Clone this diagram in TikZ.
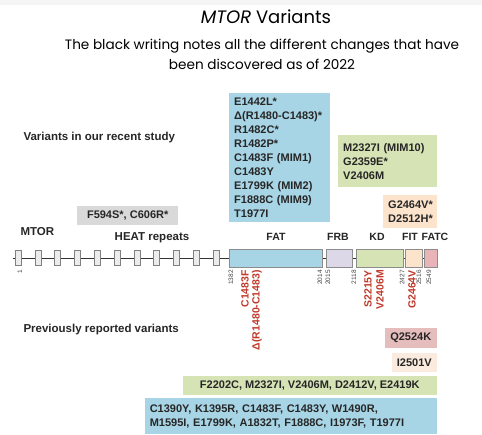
\documentclass[tikz,border=0pt]{standalone}
\usepackage{fontspec}
\setmainfont{Liberation Sans}
\newfontfamily\titlefont{Poppins}
\usetikzlibrary{positioning}
\definecolor{fatblue}{HTML}{A8D5E6}
\definecolor{kdgreen}{HTML}{D5E3B5}
\definecolor{fitpeach}{HTML}{FBE3CC}
\definecolor{frblilac}{HTML}{DDD8E8}
\definecolor{fatcpink}{HTML}{E8B4B8}
\definecolor{heatgrey}{HTML}{D9D9D9}
\definecolor{varred}{HTML}{C0392B}
\definecolor{tickgrey}{HTML}{444444}
\definecolor{qpink}{HTML}{E5BDBD}
\definecolor{ipeach}{HTML}{FBEBDF}
\tikzset{
  vbx/.style={fill=#1,inner xsep=5pt,inner ysep=3pt,align=left,font=\bfseries\fontsize{11}{14}\selectfont,text=black!85},
  dom/.style={draw=black!45,fill=#1,minimum height=18pt,inner sep=0pt,anchor=west},
  lbl/.style={font=\bfseries\fontsize{11.5}{14}\selectfont,text=black!85},
  domlbl/.style={font=\bfseries\fontsize{10.5}{12}\selectfont,text=black!85},
  resnum/.style={rotate=90,anchor=east,inner sep=0pt,font=\fontsize{6.5}{8}\selectfont,text=tickgrey},
  mut/.style={rotate=90,anchor=east,inner sep=0pt,font=\bfseries\fontsize{10.5}{10}\selectfont,text=varred},
}

\begin{document}
\begin{tikzpicture}[x=1pt,y=-1pt]
\useasboundingbox (0,0) rectangle (482,434);
\fill[black!4] (0,0) rectangle (482,5);
% title
\node[font=\titlefont\fontsize{18}{20}\selectfont] (title) at (266,17) {\textit{MTOR} Variants};
\node[font=\titlefont\fontsize{13.6}{20}\selectfont,align=center] (sub) at (262,54) {The black writing notes all the different changes that have\\been discovered as of 2022};
% row labels
\node[lbl,anchor=west] (recent) at (20,138) {Variants in our recent study};
\node[lbl,anchor=west] (prev) at (20,330) {Previously reported variants};
\node[lbl,anchor=west] (mtor) at (17,232) {MTOR};
\node[lbl] (heat) at (152,238) {HEAT repeats};
% protein backbone
\coordinate (nterm) at (13,258);
\coordinate (cterm) at (438,258);
\draw[black!80,line width=1pt] (nterm) -- (cterm);
\foreach \i in {0,...,10}
  \node[draw=black!50,fill=heatgrey!50,minimum width=6pt,minimum height=15pt,inner sep=0pt] (h\i) at ({18+19.8*\i},258) {};
\node[dom=fatblue,minimum width=93pt] (fat) at (229,258) {};
\node[dom=frblilac,minimum width=26pt] (frb) at (326,258) {};
\node[dom=kdgreen,minimum width=47pt] (kd) at (356,258) {};
\node[dom=fitpeach,minimum width=17pt] (fit) at (405,258) {};
\node[dom=fatcpink,minimum width=13pt] (fatc) at (424,258) {};
\node[domlbl] (fatl) at (276,237) {FAT};
\node[domlbl] (frbl) at (338,237) {FRB};
\node[domlbl] (kdl) at (377,237) {KD};
\node[domlbl] (fitl) at (410,237) {FIT};
\node[domlbl] (fatcl) at (435,237) {FATC};
% residue numbers
\node[resnum] (p1) at (20,270) {1};
\foreach \x/\n in {231/1382,320/2014,328/2015,354/2118,402/2427,419/2516,429/2549}
  \node[resnum] (p\n) at (\x,270) {\n};
% known variants on the domains
\node[mut] (m1) at (245,270) {C1483F};
\node[mut] (m2) at (257,270) {Δ(R1480-C1483)};
\node[mut] (m3) at (368,270) {S2215Y};
\node[mut] (m4) at (380,270) {V2406M};
\node[mut] (m5) at (412,270) {G2464V};
% variants of the recent study
\node[vbx=fatblue,anchor=north west,text width=91pt,minimum height=129pt] (fatv) at (229,93) {E1442L*\\Δ(R1480-C1483)*\\R1482C*\\R1482P*\\C1483F (MIM1)\\C1483Y\\E1799K (MIM2)\\F1888C (MIM9)\\T1977I};
\node[vbx=kdgreen,anchor=north west,text width=89pt,minimum height=52pt] (kdv) at (338,135) {M2327I (MIM10)\\G2359E*\\V2406M};
\node[vbx=fitpeach,anchor=north west,text width=44pt,minimum height=33pt] (fitv) at (383,195) {G2464V*\\D2512H*};
\node[vbx=heatgrey,anchor=north west,minimum width=101pt,minimum height=19pt,align=center] (heatv) at (77,206) {F594S*, C606R*};
% previously reported variants
\node[vbx=qpink,anchor=north east,minimum width=52pt,minimum height=20pt,align=center] (q) at (437,328) {Q2524K};
\node[vbx=ipeach,anchor=north east,minimum width=45pt,minimum height=19pt,align=center] (i) at (437,353) {I2501V};
\node[vbx=kdgreen,anchor=north east,minimum width=254pt,minimum height=19pt,align=center] (kdp) at (437,376) {F2202C, M2327I, V2406M, D2412V, E2419K};
\node[vbx=fatblue,anchor=north east,text width=282pt,minimum height=36pt] (fatp) at (437,398) {C1390Y, K1395R, C1483F, C1483Y, W1490R,\\M1595I, E1799K, A1832T, F1888C, I1973F, T1977I};
\end{tikzpicture}
\end{document}
